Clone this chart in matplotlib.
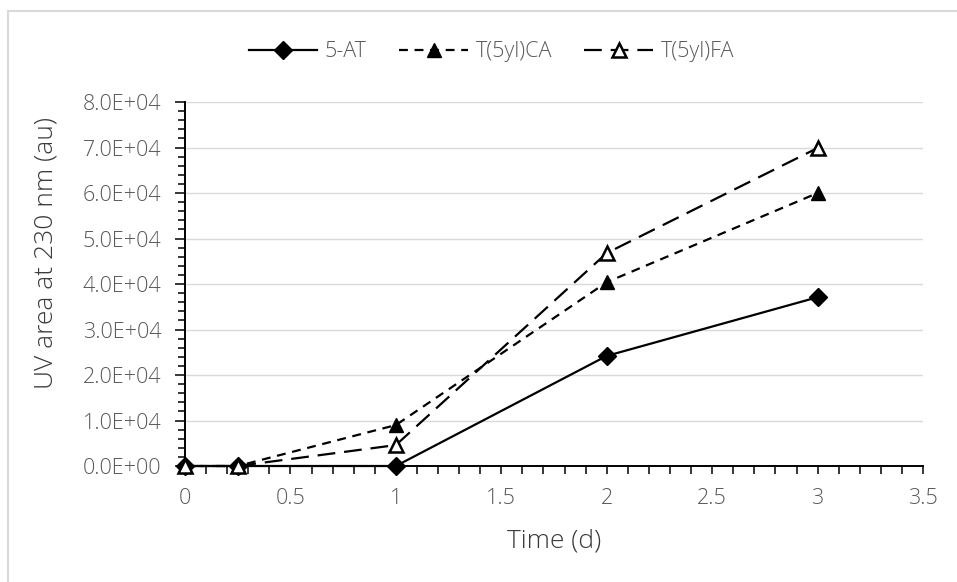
import numpy as np
import matplotlib.pyplot as plt
from matplotlib.ticker import MultipleLocator, FuncFormatter
from matplotlib.patches import Rectangle

# Sampling times (days) and UV peak areas for each compound
time_d = [0, 0.25, 1, 2, 3]
area_5at = [0, 0, 0, 24200, 37100]
area_ca = [0, 0, 9000, 40400, 60000]
area_fa = [0, 0, 4600, 46800, 69900]

plt.rcParams['font.family'] = ['Open Sans', 'DejaVu Sans']
plt.rcParams['font.weight'] = 'light'

fig = plt.figure(figsize=(9.57, 5.82), dpi=100)
ax = fig.add_axes([0.1933, 0.1993, 0.7712, 0.6254])

# chart area outline
fig.patches.append(Rectangle((8 / 957, -0.1), 1.2, (582 - 11) / 582 + 0.1,
                             transform=fig.transFigure, fill=False,
                             edgecolor='#d9d9d9', lw=1.5, zorder=0))

ax.plot(time_d, area_5at, color='black', lw=1.6, marker='D', ms=9,
        label='5-AT', zorder=3, clip_on=False)
ax.plot(time_d, area_ca, color='black', lw=1.6, ls=(0, (4, 3)), marker='^',
        ms=10, label='T(5yl)CA', zorder=3, clip_on=False)
ax.plot(time_d, area_fa, color='black', lw=1.6, ls=(0, (8, 4)), marker='^',
        ms=10, mfc='white', mew=1.8, label='T(5yl)FA', zorder=3, clip_on=False)

ax.set_xlim(0, 3.5)
ax.set_ylim(0, 80000)
ax.xaxis.set_major_locator(MultipleLocator(0.5))
ax.xaxis.set_minor_locator(MultipleLocator(0.1))
ax.yaxis.set_major_locator(MultipleLocator(10000))
ax.yaxis.set_minor_locator(MultipleLocator(2000))
ax.xaxis.set_major_formatter(FuncFormatter(lambda v, p: '%g' % v))
ax.yaxis.set_major_formatter(FuncFormatter(lambda v, p: '{:.1E}'.format(v)))

ax.grid(axis='y', color='#d9d9d9', lw=1.0, zorder=0)
ax.set_axisbelow(True)
for s in ['top', 'right']:
    ax.spines[s].set_visible(False)
ax.spines['left'].set_linewidth(1.4)
ax.spines['bottom'].set_linewidth(1.4)

ax.tick_params(axis='both', which='both', direction='out', color='black',
               labelcolor='#595959', labelsize=15.5, width=1.1)
ax.tick_params(axis='y', which='major', length=7, pad=10)
ax.tick_params(axis='y', which='minor', length=5)
ax.tick_params(axis='x', which='both', length=6, pad=10)

ax.set_xlabel('Time (d)', fontsize=19, color='#3a3a3a', labelpad=14,
              fontweight='light')
ax.set_ylabel('UV area at 230 nm (au)', fontsize=19, color='#3a3a3a',
              fontweight='light')
ax.yaxis.set_label_coords(-0.172, 0.585)

ax.legend(loc='upper center', bbox_to_anchor=(0.415, 1.22), ncol=3,
          frameon=False, fontsize=15.5, handlelength=3.2, columnspacing=1.5,
          handletextpad=0.35, labelcolor='#595959')

fig.savefig('out.png', dpi=100)
